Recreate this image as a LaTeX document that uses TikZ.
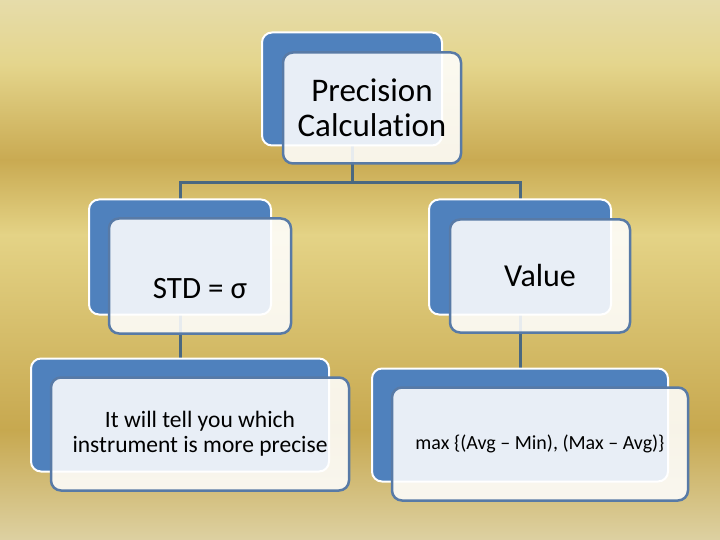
\documentclass[tikz,border=0pt]{standalone}
\usepackage{fontspec}
\setmainfont{Carlito}[Ligatures=CommonOff]
\usepackage{tikz}

\definecolor{gold0}{RGB}{230,220,170}
\definecolor{gold1}{RGB}{228,213,140}
\definecolor{gold2}{RGB}{201,170,82}
\definecolor{gold3}{RGB}{228,211,134}
\definecolor{gold4}{RGB}{199,168,79}
\definecolor{gold5}{RGB}{221,209,162}
\definecolor{boxblue}{RGB}{79,129,189}
\definecolor{rimblue}{RGB}{88,122,166}
\definecolor{linkblue}{RGB}{74,104,128}

\pgfdeclarelayer{bgfill}
\pgfdeclarelayer{links}
\pgfdeclarelayer{backs}
\pgfsetlayers{bgfill,links,backs,main}

\tikzset{
  backbox/.style={draw=white, line width=2pt, fill=boxblue, rounded corners=10pt},
  frontbox/.style={draw=rimblue, line width=2.5pt, fill=white, fill opacity=0.87,
    text opacity=1, rounded corners=10pt, align=center, inner sep=0pt},
  link/.style={draw=linkblue, line width=3pt}
}

\begin{document}
\begin{tikzpicture}[x=1pt, y=-1pt]
  \useasboundingbox (0,0) rectangle (720,540);

  % Gold background
  \begin{pgfonlayer}{bgfill}
    \foreach \ya/\yb/\ca/\cb in {0/65/gold0/gold1, 65/160/gold1/gold2, 160/235/gold2/gold3,
        235/430/gold3/gold4, 430/540/gold4/gold5}
      \shade[top color=\ca, bottom color=\cb] (0,\ya-0.5) rectangle (720,\yb+0.5);
  \end{pgfonlayer}

  % Back panels
  \begin{pgfonlayer}{backs}
    \node[backbox, minimum width=180, minimum height=113] (precb) at (352,89) {};
    \node[backbox, minimum width=182, minimum height=115] (stdb) at (180,257) {};
    \node[backbox, minimum width=182, minimum height=115] (valb) at (520,257) {};
    \node[backbox, minimum width=298, minimum height=113] (stdnoteb) at (180,415) {};
    \node[backbox, minimum width=296, minimum height=113] (valnoteb) at (520,425) {};
  \end{pgfonlayer}

  % Front panels
  \node[frontbox, minimum width=178, minimum height=111, font=\fontsize{33}{35}\selectfont]
    (prec) at ([shift={(20,19)}]precb) {Precision\\Calculation};
  \node[frontbox, minimum width=182, minimum height=115, font=\fontsize{31}{35}\selectfont,
    text height=44pt, text depth=0pt]
    (std) at ([shift={(20,19)}]stdb) {STD = σ};
  \node[frontbox, minimum width=180, minimum height=113, font=\fontsize{32}{35}\selectfont]
    (val) at ([shift={(20,19)}]valb) {Value};
  \node[frontbox, minimum width=298, minimum height=113, font=\fontsize{23.5}{25}\selectfont]
    (stdnote) at ([shift={(20,19)}]stdnoteb) {It will tell you which\\instrument is more precise};
  \node[frontbox, minimum width=296, minimum height=113, font=\fontsize{20}{22}\selectfont]
    (valnote) at ([shift={(20,19)}]valnoteb) {max \{(Avg – Min), (Max – Avg)\}};

  % Connectors
  \coordinate (bus) at (352,183);
  \begin{pgfonlayer}{links}
    \draw[link] (precb.center) -- (precb.center |- bus);
    \draw[link] (stdb.center) |- (bus -| valb.center) -- (valb.center);
    \draw[link] (stdb.center) -- (stdnoteb.center);
    \draw[link] (valb.center) -- (valnoteb.center);
  \end{pgfonlayer}
\end{tikzpicture}
\end{document}
